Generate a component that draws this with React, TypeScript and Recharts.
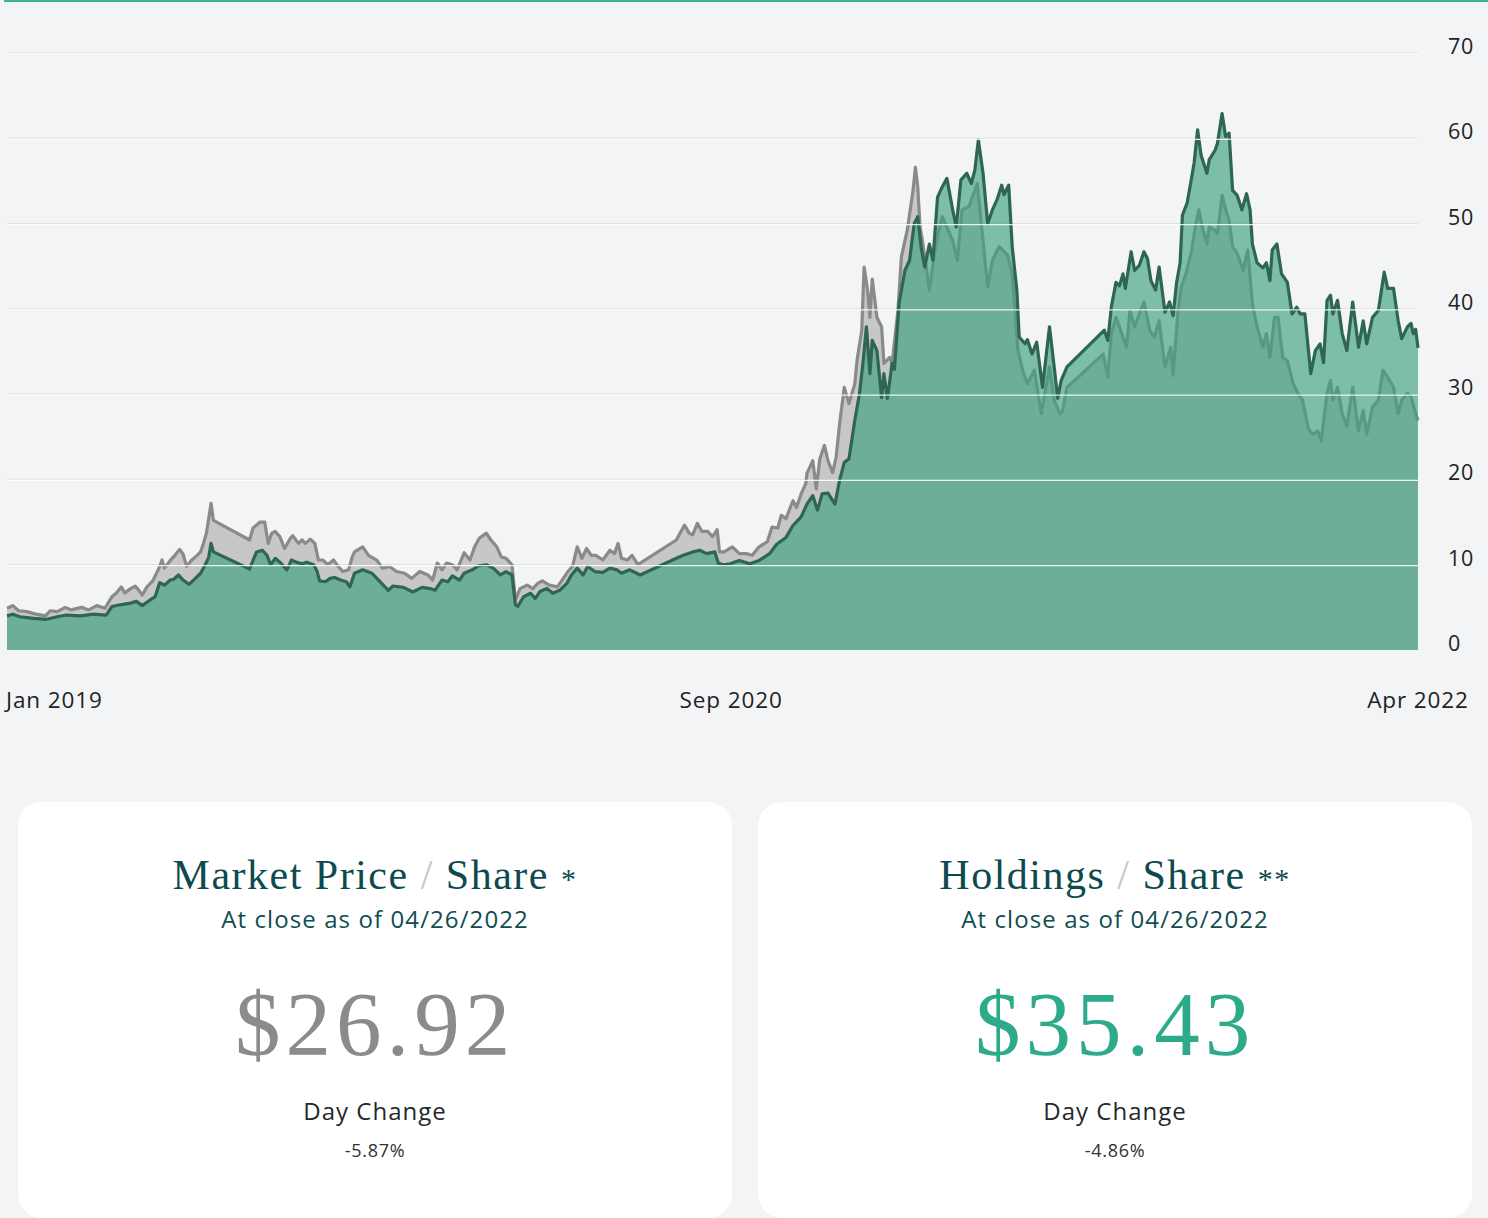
import { AreaChart, Area, XAxis, YAxis, CartesianGrid } from "recharts";

// market price per share (grey) and holdings per share (green)
const marketPrice: [string, number][] = [
  ["2019-01-02", 4.9], ["2019-01-07", 5.2], ["2019-01-12", 4.6], ["2019-01-19", 4.5], ["2019-01-27", 4.2],
  ["2019-02-04", 4.0], ["2019-02-08", 4.6], ["2019-02-14", 4.5], ["2019-02-21", 5.0], ["2019-02-26", 4.7],
  ["2019-03-07", 5.0], ["2019-03-13", 4.7], ["2019-03-20", 5.2], ["2019-03-27", 4.9], ["2019-04-02", 6.25],
  ["2019-04-06", 6.7], ["2019-04-10", 7.4], ["2019-04-13", 6.7], ["2019-04-18", 7.2], ["2019-04-22", 7.5],
  ["2019-04-25", 7.0], ["2019-04-28", 6.45], ["2019-05-02", 7.4], ["2019-05-07", 8.1], ["2019-05-12", 9.5],
  ["2019-05-15", 10.55], ["2019-05-17", 9.6], ["2019-05-22", 10.5], ["2019-05-26", 11.1], ["2019-05-30", 11.8],
  ["2019-06-02", 11.25], ["2019-06-05", 9.8], ["2019-06-09", 10.5], ["2019-06-14", 11.1], ["2019-06-17", 11.5],
  ["2019-06-19", 12.3], ["2019-06-22", 13.7], ["2019-06-26", 17.2], ["2019-06-28", 15.2], ["2019-07-29", 12.9],
  ["2019-08-01", 14.3], ["2019-08-07", 15.0], ["2019-08-11", 15.0], ["2019-08-14", 12.5], ["2019-08-17", 13.7],
  ["2019-08-20", 13.9], ["2019-08-24", 13.3], ["2019-08-28", 11.9], ["2019-09-02", 13.1], ["2019-09-04", 13.4],
  ["2019-09-09", 12.5], ["2019-09-12", 12.9], ["2019-09-15", 12.5], ["2019-09-19", 13.0], ["2019-09-23", 12.5],
  ["2019-09-26", 10.55], ["2019-09-30", 10.55], ["2019-10-04", 10.0], ["2019-10-09", 10.55], ["2019-10-13", 9.8],
  ["2019-10-17", 9.2], ["2019-10-22", 9.4], ["2019-10-25", 10.9], ["2019-10-27", 11.5], ["2019-11-03", 12.1],
  ["2019-11-08", 11.1], ["2019-11-15", 10.55], ["2019-11-20", 9.6], ["2019-11-26", 9.8], ["2019-12-02", 9.2],
  ["2019-12-09", 9.0], ["2019-12-15", 8.4], ["2019-12-22", 9.2], ["2019-12-29", 8.8],
  ["2020-01-02", 8.2], ["2020-01-06", 10.2], ["2020-01-10", 9.4], ["2020-01-14", 10.2], ["2020-01-19", 10.0],
  ["2020-01-23", 9.4], ["2020-01-29", 11.4], ["2020-02-03", 10.55], ["2020-02-07", 12.1], ["2020-02-11", 13.1],
  ["2020-02-17", 13.7], ["2020-02-21", 12.9], ["2020-02-26", 12.1], ["2020-03-01", 10.9], ["2020-03-05", 10.75],
  ["2020-03-10", 10.0], ["2020-03-13", 5.9], ["2020-03-17", 7.2], ["2020-03-23", 7.6], ["2020-03-28", 7.2],
  ["2020-04-01", 7.8], ["2020-04-05", 8.1], ["2020-04-11", 7.6], ["2020-04-18", 7.4], ["2020-04-22", 8.2],
  ["2020-04-27", 9.2], ["2020-05-01", 9.8], ["2020-05-05", 12.1], ["2020-05-09", 10.75], ["2020-05-13", 11.9],
  ["2020-05-17", 11.1], ["2020-05-21", 11.1], ["2020-05-27", 10.55], ["2020-06-02", 11.7], ["2020-06-06", 11.3],
  ["2020-06-09", 12.5], ["2020-06-12", 10.75], ["2020-06-17", 10.55], ["2020-06-21", 11.1], ["2020-06-26", 10.0],
  ["2020-07-29", 12.9], ["2020-08-05", 14.65], ["2020-08-09", 13.7], ["2020-08-12", 13.5], ["2020-08-16", 14.85],
  ["2020-08-20", 13.9], ["2020-08-25", 13.9], ["2020-08-29", 13.3], ["2020-09-02", 14.1], ["2020-09-04", 11.5],
  ["2020-09-08", 11.5], ["2020-09-15", 12.1], ["2020-09-21", 11.3], ["2020-09-27", 11.3], ["2020-10-02", 11.1],
  ["2020-10-08", 12.1], ["2020-10-15", 12.7], ["2020-10-19", 14.4], ["2020-10-24", 14.3], ["2020-10-27", 15.8],
  ["2020-10-31", 15.4], ["2020-11-06", 17.5], ["2020-11-09", 16.7], ["2020-11-13", 18.3], ["2020-11-17", 19.5],
  ["2020-11-18", 20.7], ["2020-11-23", 22.2], ["2020-11-26", 18.9], ["2020-11-29", 22.4], ["2020-12-03", 24.0],
  ["2020-12-06", 22.2], ["2020-12-10", 20.8], ["2020-12-13", 22.6], ["2020-12-16", 26.5], ["2020-12-20", 30.8],
  ["2020-12-24", 28.9], ["2020-12-29", 31.2], ["2020-12-31", 34.0],
  ["2021-01-04", 37.5], ["2021-01-06", 44.9], ["2021-01-09", 42.2], ["2021-01-11", 39.0], ["2021-01-13", 43.5],
  ["2021-01-17", 39.0], ["2021-01-21", 37.9], ["2021-01-23", 33.6], ["2021-01-28", 34.3], ["2021-01-30", 33.6],
  ["2021-02-04", 39.8], ["2021-02-07", 46.1], ["2021-02-10", 48.0], ["2021-02-12", 49.2], ["2021-02-17", 53.9],
  ["2021-02-19", 56.6], ["2021-02-21", 54.3], ["2021-02-23", 49.6], ["2021-02-25", 48.0], ["2021-03-03", 42.2],
  ["2021-03-09", 48.0], ["2021-03-14", 50.8], ["2021-03-23", 48.0], ["2021-03-27", 45.7], ["2021-03-31", 51.6],
  ["2021-04-06", 52.0], ["2021-04-13", 54.7], ["2021-04-18", 48.0], ["2021-04-22", 42.6], ["2021-04-26", 45.7],
  ["2021-05-02", 47.3], ["2021-05-09", 46.3], ["2021-05-13", 44.1], ["2021-05-18", 35.1], ["2021-05-22", 32.8],
  ["2021-05-26", 31.2], ["2021-06-01", 32.8], ["2021-06-07", 27.7], ["2021-06-14", 33.2], ["2021-06-18", 29.3],
  ["2021-06-23", 27.7], ["2021-06-25", 27.9], ["2021-06-29", 30.8], ["2021-07-30", 34.7], ["2021-08-03", 32.0],
  ["2021-08-06", 37.1], ["2021-08-10", 39.0], ["2021-08-15", 37.1], ["2021-08-19", 35.5], ["2021-08-22", 39.8],
  ["2021-08-26", 37.9], ["2021-08-30", 39.4], ["2021-09-03", 40.8], ["2021-09-08", 37.5], ["2021-09-12", 36.7],
  ["2021-09-16", 38.6], ["2021-09-21", 33.2], ["2021-09-26", 35.5], ["2021-09-28", 32.2], ["2021-10-02", 39.4],
  ["2021-10-05", 42.6], ["2021-10-09", 44.1], ["2021-10-14", 46.9], ["2021-10-16", 48.8], ["2021-10-20", 51.6],
  ["2021-10-23", 49.6], ["2021-10-27", 47.6], ["2021-10-29", 49.6], ["2021-11-03", 49.2], ["2021-11-05", 48.8],
  ["2021-11-09", 53.3], ["2021-11-13", 51.2], ["2021-11-15", 50.4], ["2021-11-18", 47.3], ["2021-11-22", 46.5],
  ["2021-11-27", 44.5], ["2021-12-01", 46.9], ["2021-12-05", 40.6], ["2021-12-09", 37.9], ["2021-12-14", 35.5],
  ["2021-12-17", 37.1], ["2021-12-20", 34.3], ["2021-12-24", 39.0], ["2021-12-27", 39.0], ["2021-12-31", 34.3],
  ["2022-01-04", 33.9], ["2022-01-09", 31.2], ["2022-01-13", 30.1], ["2022-01-17", 29.3], ["2022-01-22", 25.9],
  ["2022-01-26", 25.3], ["2022-01-30", 25.7], ["2022-02-02", 24.5], ["2022-02-07", 30.1], ["2022-02-10", 31.6],
  ["2022-02-12", 29.3], ["2022-02-16", 30.8], ["2022-02-20", 27.7], ["2022-02-24", 26.2], ["2022-03-01", 30.8],
  ["2022-03-06", 25.7], ["2022-03-10", 28.1], ["2022-03-13", 25.3], ["2022-03-18", 28.5], ["2022-03-23", 29.3],
  ["2022-03-27", 32.8], ["2022-03-31", 32.0], ["2022-04-05", 30.8], ["2022-04-09", 27.7], ["2022-04-12", 29.3],
  ["2022-04-17", 30.1], ["2022-04-20", 29.7], ["2022-04-24", 27.7], ["2022-04-26", 26.92],
];

const holdingsPerShare: [string, number][] = [
  ["2019-01-02", 4.0], ["2019-01-07", 4.2], ["2019-01-13", 3.9], ["2019-01-25", 3.7], ["2019-02-05", 3.6],
  ["2019-02-14", 3.9], ["2019-02-22", 4.1], ["2019-03-06", 4.0], ["2019-03-17", 4.2], ["2019-03-28", 4.1],
  ["2019-04-02", 5.1], ["2019-04-09", 5.3], ["2019-04-18", 5.5], ["2019-04-23", 5.7], ["2019-04-28", 5.2],
  ["2019-05-03", 5.7], ["2019-05-09", 6.25], ["2019-05-13", 7.9], ["2019-05-17", 7.6], ["2019-05-22", 8.2],
  ["2019-05-25", 8.3], ["2019-05-29", 8.8], ["2019-06-02", 8.2], ["2019-06-07", 7.7], ["2019-06-11", 8.2],
  ["2019-06-17", 9.0], ["2019-06-21", 10.0], ["2019-06-24", 10.9], ["2019-06-26", 12.5], ["2019-06-28", 11.5],
  ["2019-07-29", 9.5], ["2019-08-04", 11.5], ["2019-08-09", 11.7], ["2019-08-13", 11.1], ["2019-08-16", 10.0],
  ["2019-08-20", 10.75], ["2019-08-24", 10.3], ["2019-08-30", 9.4], ["2019-09-03", 10.55], ["2019-09-07", 10.3],
  ["2019-09-12", 10.1], ["2019-09-16", 10.3], ["2019-09-22", 10.0], ["2019-09-25", 9.2], ["2019-09-27", 8.1],
  ["2019-10-02", 8.0], ["2019-10-06", 8.4], ["2019-10-10", 8.5], ["2019-10-15", 8.2], ["2019-10-20", 8.0],
  ["2019-10-23", 7.4], ["2019-10-27", 9.0], ["2019-11-03", 9.4], ["2019-11-11", 9.0], ["2019-11-18", 8.0],
  ["2019-11-25", 7.0], ["2019-11-29", 7.5], ["2019-12-08", 7.35], ["2019-12-16", 6.8], ["2019-12-24", 7.35],
  ["2019-12-31", 7.2],
  ["2020-01-04", 7.0], ["2020-01-10", 8.2], ["2020-01-15", 8.0], ["2020-01-19", 8.7], ["2020-01-25", 8.2],
  ["2020-01-29", 9.0], ["2020-02-05", 9.4], ["2020-02-10", 9.85], ["2020-02-17", 10.0], ["2020-02-23", 9.6],
  ["2020-02-29", 8.8], ["2020-03-05", 9.2], ["2020-03-10", 8.8], ["2020-03-13", 5.3], ["2020-03-15", 5.1],
  ["2020-03-20", 6.25], ["2020-03-26", 6.65], ["2020-03-30", 6.05], ["2020-04-03", 6.85], ["2020-04-09", 7.2],
  ["2020-04-14", 6.65], ["2020-04-20", 7.0], ["2020-04-26", 7.8], ["2020-04-30", 8.8], ["2020-05-05", 9.6],
  ["2020-05-10", 8.8], ["2020-05-14", 9.8], ["2020-05-20", 9.2], ["2020-05-27", 9.1], ["2020-06-02", 9.6],
  ["2020-06-08", 9.4], ["2020-06-12", 9.0], ["2020-06-19", 9.4], ["2020-06-25", 9.0], ["2020-06-28", 8.8],
  ["2020-07-29", 10.75], ["2020-08-04", 11.1], ["2020-08-12", 11.5], ["2020-08-18", 11.7], ["2020-08-24", 11.3],
  ["2020-08-31", 11.5], ["2020-09-03", 10.2], ["2020-09-07", 10.0], ["2020-09-13", 10.1], ["2020-09-21", 10.5],
  ["2020-09-30", 10.1], ["2020-10-08", 10.5], ["2020-10-17", 11.3], ["2020-10-23", 12.4], ["2020-10-31", 13.2],
  ["2020-11-06", 14.6], ["2020-11-13", 15.6], ["2020-11-18", 17.1], ["2020-11-23", 18.1], ["2020-11-27", 16.4],
  ["2020-12-01", 18.3], ["2020-12-06", 18.4], ["2020-12-12", 17.1], ["2020-12-16", 19.9], ["2020-12-20", 22.0],
  ["2020-12-24", 22.4], ["2020-12-29", 26.9],
  ["2021-01-02", 30.0], ["2021-01-05", 33.6], ["2021-01-08", 37.9], ["2021-01-11", 32.4], ["2021-01-13", 36.3],
  ["2021-01-17", 35.1], ["2021-01-21", 29.6], ["2021-01-23", 32.4], ["2021-01-26", 29.5], ["2021-01-30", 33.6],
  ["2021-02-01", 32.9], ["2021-02-05", 40.6], ["2021-02-10", 44.5], ["2021-02-14", 45.7], ["2021-02-18", 50.0],
  ["2021-02-21", 50.8], ["2021-02-24", 47.1], ["2021-02-27", 44.9], ["2021-03-03", 47.6], ["2021-03-06", 45.7],
  ["2021-03-10", 53.1], ["2021-03-14", 54.3], ["2021-03-18", 55.3], ["2021-03-23", 51.6], ["2021-03-26", 49.6],
  ["2021-03-30", 55.1], ["2021-04-04", 55.9], ["2021-04-08", 54.7], ["2021-04-11", 56.3], ["2021-04-14", 59.8],
  ["2021-04-18", 55.9], ["2021-04-22", 50.0], ["2021-04-26", 51.6], ["2021-04-30", 52.8], ["2021-05-04", 54.5],
  ["2021-05-06", 53.4], ["2021-05-10", 54.5], ["2021-05-13", 47.3], ["2021-05-17", 42.2], ["2021-05-19", 36.7],
  ["2021-05-24", 35.9], ["2021-05-26", 36.4], ["2021-05-30", 34.7], ["2021-06-03", 36.1], ["2021-06-08", 30.8],
  ["2021-06-14", 37.9], ["2021-06-18", 33.2], ["2021-06-21", 29.5], ["2021-06-24", 31.6], ["2021-06-29", 33.2],
  ["2021-07-31", 37.5], ["2021-08-03", 36.3], ["2021-08-06", 40.2], ["2021-08-10", 43.1], ["2021-08-13", 42.7],
  ["2021-08-16", 44.1], ["2021-08-18", 42.4], ["2021-08-23", 46.7], ["2021-08-26", 44.5], ["2021-08-30", 45.1],
  ["2021-09-03", 46.7], ["2021-09-06", 45.9], ["2021-09-09", 43.3], ["2021-09-13", 42.2], ["2021-09-16", 44.9],
  ["2021-09-21", 39.6], ["2021-09-25", 40.8], ["2021-09-28", 39.2], ["2021-10-01", 43.1], ["2021-10-04", 45.4],
  ["2021-10-06", 51.0], ["2021-10-10", 52.4], ["2021-10-14", 55.5], ["2021-10-16", 57.1], ["2021-10-19", 61.0],
  ["2021-10-22", 58.0], ["2021-10-27", 55.9], ["2021-10-29", 57.5], ["2021-11-03", 58.6], ["2021-11-05", 59.4],
  ["2021-11-09", 62.9], ["2021-11-12", 60.2], ["2021-11-15", 60.6], ["2021-11-18", 53.9], ["2021-11-22", 53.3],
  ["2021-11-26", 51.6], ["2021-11-30", 53.5], ["2021-12-03", 51.6], ["2021-12-05", 47.6], ["2021-12-09", 45.4],
  ["2021-12-14", 44.8], ["2021-12-17", 45.4], ["2021-12-20", 43.3], ["2021-12-22", 46.9], ["2021-12-26", 47.6],
  ["2021-12-30", 44.1],
  ["2022-01-04", 43.1], ["2022-01-08", 39.4], ["2022-01-12", 40.2], ["2022-01-15", 39.4], ["2022-01-19", 39.4],
  ["2022-01-24", 32.4], ["2022-01-28", 35.1], ["2022-02-01", 35.9], ["2022-02-04", 33.7], ["2022-02-07", 41.0],
  ["2022-02-10", 41.6], ["2022-02-12", 39.4], ["2022-02-16", 41.0], ["2022-02-20", 37.1], ["2022-02-24", 35.1],
  ["2022-03-01", 40.8], ["2022-03-06", 35.5], ["2022-03-10", 38.6], ["2022-03-13", 35.9], ["2022-03-18", 39.0],
  ["2022-03-23", 39.8], ["2022-03-28", 44.3], ["2022-03-31", 42.4], ["2022-04-05", 42.4], ["2022-04-09", 38.6],
  ["2022-04-12", 36.5], ["2022-04-17", 37.9], ["2022-04-20", 38.3], ["2022-04-22", 37.1], ["2022-04-24", 37.6],
  ["2022-04-26", 35.43],
];

const xTickDates = ["2019-01-02", "2020-09-14", "2022-04-26"];
const yTicks = [0, 10, 20, 30, 40, 50, 60, 70];
const monthNames = ["Jan", "Feb", "Mar", "Apr", "May", "Jun", "Jul", "Aug", "Sep", "Oct", "Nov", "Dec"];

const cards = [
  { title: "Market Price", mark: "*", asOf: "04/26/2022", price: "$26.92", change: "-5.87%", color: "#8b8b8b" },
  { title: "Holdings", mark: "**", asOf: "04/26/2022", price: "$35.43", change: "-4.86%", color: "#2daa8a" },
];

const BG = "#f3f4f6";
const SANS = "'Open Sans', 'Noto Sans', sans-serif";
const SERIF = "'Liberation Serif', 'DejaVu Serif', serif";
const TEXT = "#222";

const toTime = (s: string) => Date.parse(s + "T00:00:00Z");
const toRows = (pairs: [string, number][]) => pairs.map(([d, v]) => ({ t: toTime(d), v }));

const marketData = toRows(marketPrice);
const holdingsData = toRows(holdingsPerShare);
const xTicks = xTickDates.map(toTime);
const yMax = yTicks[yTicks.length - 1];

const fmtMonth = (t: number) => {
  const d = new Date(t);
  return `${monthNames[d.getUTCMonth()]} ${d.getUTCFullYear()}`;
};

// grid rows from the y scale, shifted a pixel so the grey and white rules sit side by side
const gridRows = (shift: number) => ({ yAxis, offset }: any) =>
  yTicks
    .filter((t) => t > 0)
    .map((t) =>
      (typeof yAxis?.scale === "function" ? yAxis.scale(t) : offset.top + offset.height * (1 - t / yMax)) + shift
    );

function XTick({ x, y, payload }: any) {
  const first = payload.value === xTicks[0];
  return (
    <text x={first ? x - 1 : x} y={y + 58} textAnchor={first ? "start" : "middle"} fill={TEXT} fontSize={22.5} fontFamily={SANS} style={{ letterSpacing: 0.9 }}>
      {fmtMonth(payload.value)}
    </text>
  );
}

function YTick({ x, y, payload }: any) {
  return (
    <text x={x} y={y + 1} textAnchor="start" fill={TEXT} fontSize={21.5} fontFamily={SANS} style={{ letterSpacing: 0.8 }}>
      {payload.value}
    </text>
  );
}

function Card({ card, left }: { card: (typeof cards)[number]; left: number }) {
  const cx = 357;
  return (
    <div style={{ position: "absolute", left, top: 802, width: 714, height: 416, background: "#fff", borderRadius: 24 }}>
      <svg width={714} height={416}>
        <text x={cx} y={87} textAnchor="middle" fontFamily={SERIF} fontSize={42} fill="#0d4a4f" style={{ letterSpacing: 1.5 }}>
          {card.title} <tspan fill="#c3c8cb">/</tspan> Share <tspan fontSize={30}>{card.mark}</tspan>
        </text>
        <text x={cx} y={126} textAnchor="middle" fontFamily={SANS} fontSize={24} fill="#0f4d52" style={{ letterSpacing: 1.1 }}>
          At close as of {card.asOf}
        </text>
        <text x={cx} y={253} textAnchor="middle" fontFamily={SERIF} fontSize={91} fill={card.color} style={{ letterSpacing: 5 }}>
          {card.price}
        </text>
        <text x={cx} y={318} textAnchor="middle" fontFamily={SANS} fontSize={24} fill="#1f2a2d" style={{ letterSpacing: 1 }}>
          Day Change
        </text>
        <text x={cx} y={355} textAnchor="middle" fontFamily={SANS} fontSize={18} fill="#333" style={{ letterSpacing: 0.7 }}>
          {card.change}
        </text>
      </svg>
    </div>
  );
}

export default function App() {
  return (
    <div style={{ position: "relative", width: 1488, height: 1218, background: BG, overflow: "hidden", fontFamily: SANS }}>
      <style>{"body{margin:0}"}</style>
      <div style={{ position: "absolute", top: 0, left: 4, right: 0, height: 2, background: "#3db394" }} />
      <div style={{ position: "absolute", top: 0, left: 0 }}>
        <AreaChart width={1488} height={720} margin={{ top: 53, right: 0, bottom: 0, left: 7 }}>
          <CartesianGrid vertical={false} stroke="#dfe1e4" strokeWidth={1.3} horizontalCoordinatesGenerator={gridRows(0)} />
          <XAxis
            dataKey="t"
            type="number"
            domain={[xTicks[0], xTicks[xTicks.length - 1]]}
            ticks={xTicks}
            interval={0}
            tick={<XTick />}
            tickSize={0}
            tickMargin={0}
            axisLine={false}
            tickLine={false}
            height={70}
            allowDuplicatedCategory={false}
          />
          <YAxis
            orientation="right"
            domain={[0, yMax]}
            ticks={yTicks}
            interval={0}
            tick={<YTick />}
            tickSize={0}
            tickMargin={30}
            axisLine={false}
            tickLine={false}
            width={70}
          />
          <Area
            data={marketData}
            dataKey="v"
            type="linear"
            stroke="#8a8a8a"
            strokeWidth={3.2}
            strokeLinejoin="round"
            fill="#c7c7c7"
            fillOpacity={1}
            dot={false}
            activeDot={false}
            isAnimationActive={false}
          />
          <Area
            data={holdingsData}
            dataKey="v"
            type="linear"
            stroke="#2e6652"
            strokeWidth={3.2}
            strokeLinejoin="round"
            fill="#3ea281"
            fillOpacity={0.65}
            dot={false}
            activeDot={false}
            isAnimationActive={false}
          />
          <CartesianGrid
            vertical={false}
            stroke="#ffffff"
            strokeOpacity={0.85}
            strokeWidth={1.3}
            horizontalCoordinatesGenerator={gridRows(1)}
            zIndex={1000}
          />
        </AreaChart>
      </div>
      <Card card={cards[0]} left={18} />
      <Card card={cards[1]} left={758} />
    </div>
  );
}
